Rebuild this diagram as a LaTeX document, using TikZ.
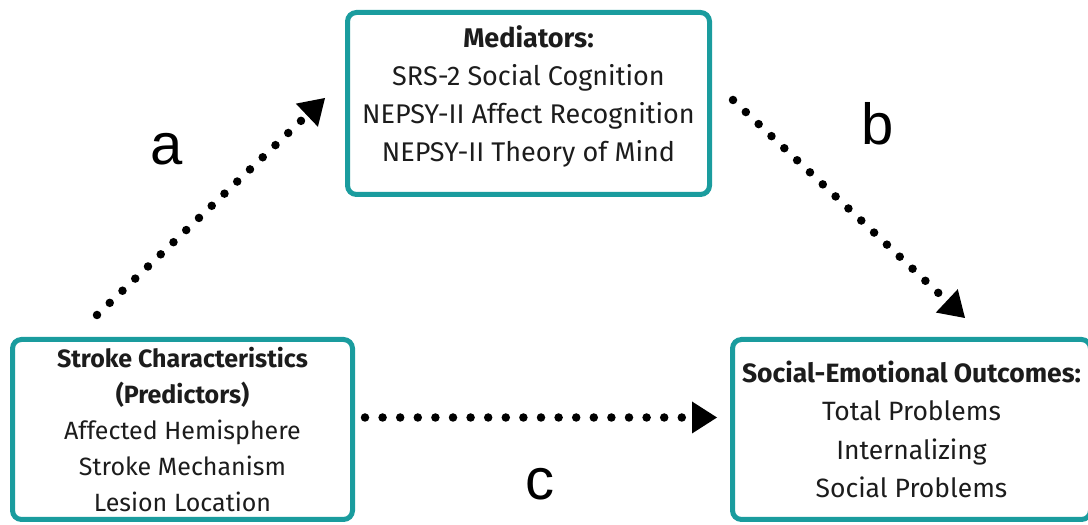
\documentclass[tikz,border=0pt]{standalone}
\usepackage{fontspec}
\setmainfont{Fira Sans}
\newfontfamily\labelfont{Liberation Sans}
\usepackage{tikz}
\usetikzlibrary{arrows.meta}
\definecolor{framec}{HTML}{1A9C9E}
\definecolor{inkc}{HTML}{1C1C1C}
\tikzset{
  boxnode/.style={rectangle, rounded corners=9pt, draw=framec, fill=white,
    line width=5pt, align=center, inner sep=0pt, text=inkc},
  dotedge/.style={-{Triangle[length=25pt, width=32pt, line width=0pt]}, draw=black,
    line width=8.5pt, line cap=round, dash pattern=on 0pt off 17.6pt},
  pathlabel/.style={font=\labelfont\fontsize{58}{58}\selectfont, anchor=base},
}

\begin{document}
\begin{tikzpicture}[x=1pt, y=1pt]
  \useasboundingbox (0,0) rectangle (1088,525);
  \node[boxnode, minimum width=362pt, minimum height=182pt,
    font=\fontsize{27}{38}\selectfont] (med) at (528.5,421.5)
    {\textbf{Mediators:}\\SRS-2 Social Cognition\\NEPSY-II Affect Recognition\\NEPSY-II Theory of Mind\rule[-19pt]{0pt}{1pt}};
  \node[boxnode, minimum width=340pt, minimum height=180pt,
    font=\fontsize{25}{36}\selectfont] (pred) at (182.5,95.5)
    {\textbf{Stroke Characteristics}\\\textbf{(Predictors)}\\Affected Hemisphere\\Stroke Mechanism\\Lesion Location};
  \node[boxnode, minimum width=358pt, minimum height=180pt,
    font=\fontsize{26.5}{38.5}\selectfont] (outc) at (911.5,95.5)
    {\textbf{Social-Emotional Outcomes:}\\Total Problems\\Internalizing\\Social Problems};
  % free ends of the diagonal paths
  \coordinate (astart) at (97,210);
  \coordinate (aend) at (325,427);
  \coordinate (bstart) at (733,425);
  \coordinate (bend) at (965,207);
  \draw[dotedge] (astart) -- (aend);
  \draw[dotedge] (bstart) -- (bend);
  \draw[dotedge, shorten <=10pt, shorten >=13pt] ([yshift=12pt]pred.east) -- ([yshift=12pt]outc.west);
  \node[pathlabel] (la) at (167,360) {a};
  \node[pathlabel] (lb) at (878,380) {b};
  \node[pathlabel] (lc) at (540,25) {c};
\end{tikzpicture}
\end{document}
